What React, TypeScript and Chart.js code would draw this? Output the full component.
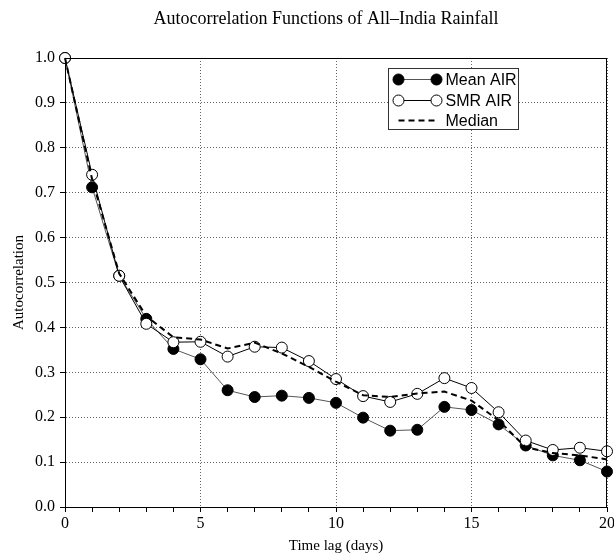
import React, { useEffect, useRef } from 'react';
import { Chart, registerables } from 'chart.js';

Chart.register(...registerables);

const lags = [0, 1, 2, 3, 4, 5, 6, 7, 8, 9, 10, 11, 12, 13, 14, 15, 16, 17, 18, 19, 20];
const meanAIR = [1.0, 0.712, 0.515, 0.419, 0.352, 0.329, 0.26, 0.245, 0.248, 0.243, 0.232, 0.199, 0.17, 0.172, 0.223, 0.216, 0.184, 0.137, 0.115, 0.104, 0.079];
const smrAIR = [1.0, 0.74, 0.515, 0.408, 0.367, 0.368, 0.335, 0.357, 0.355, 0.325, 0.285, 0.247, 0.234, 0.252, 0.287, 0.265, 0.211, 0.148, 0.127, 0.132, 0.124];
const medianACF = [1.0, 0.73, 0.52, 0.425, 0.378, 0.373, 0.353, 0.366, 0.342, 0.312, 0.279, 0.249, 0.245, 0.253, 0.257, 0.237, 0.193, 0.133, 0.12, 0.115, 0.106];
const seriesNames = ['Mean AIR', 'SMR AIR', 'Median'];
const chartTitle = 'Autocorrelation Functions of All\u2013India Rainfall';
const xAxisTitle = 'Time lag (days)';
const yAxisTitle = 'Autocorrelation';

const SERIF = "'Liberation Serif', 'DejaVu Serif', serif";
const SANS = "'Liberation Sans', Arial, sans-serif";

const frameLegendPlugin = {
  id: 'frameLegend',
  afterDraw(chart: any) {
    const { ctx, chartArea } = chart;
    const { left, right, top, bottom } = chartArea;
    ctx.save();
    // title
    ctx.fillStyle = '#000';
    ctx.font = `18px ${SERIF}`;
    ctx.textAlign = 'center';
    ctx.textBaseline = 'middle';
    ctx.fillText(chartTitle, left + 261, 19);

    ctx.strokeStyle = '#000';
    ctx.lineWidth = 1;
    ctx.setLineDash([]);
    ctx.beginPath();
    ctx.moveTo(left, top + 0.5);
    ctx.lineTo(right, top + 0.5);
    ctx.moveTo(right - 0.5, top);
    ctx.lineTo(right - 0.5, bottom);
    ctx.stroke();

    // legend box
    const bx = left + 323.5;
    const by = top + 10.5;
    const bw = 130;
    const bh = 61;
    ctx.fillStyle = '#fff';
    ctx.fillRect(bx, by, bw, bh);
    ctx.strokeStyle = '#333';
    ctx.strokeRect(bx, by, bw, bh);

    const rows = [by + 11, by + 32, by + 52];
    const x1 = bx + 10;
    const x2 = bx + 48;
    ctx.font = `16px ${SANS}`;
    ctx.textBaseline = 'middle';
    ctx.textAlign = 'left';
    seriesNames.forEach((name, i) => {
      const y = rows[i];
      ctx.save();
      if (i === 2) {
        ctx.setLineDash([6, 4]);
        ctx.lineWidth = 2;
        ctx.strokeStyle = '#000';
      } else {
        ctx.lineWidth = 1;
        ctx.strokeStyle = i === 0 ? '#555' : '#000';
      }
      ctx.beginPath();
      ctx.moveTo(x1, y);
      ctx.lineTo(x2, y);
      ctx.stroke();
      ctx.restore();
      if (i < 2) {
        [x1, x2].forEach((px) => {
          ctx.beginPath();
          ctx.arc(px, y, 5.5, 0, Math.PI * 2);
          ctx.fillStyle = i === 0 ? '#000' : '#fff';
          ctx.fill();
          ctx.lineWidth = 1;
          ctx.strokeStyle = '#000';
          ctx.stroke();
        });
      }
      ctx.fillStyle = '#000';
      ctx.fillText(name, bx + 57, y + 1);
    });
    ctx.restore();
  },
};

export default function App() {
  const canvasRef = useRef<HTMLCanvasElement | null>(null);

  useEffect(() => {
    if (!canvasRef.current) return;
    const chart = new Chart(canvasRef.current, {
      type: 'line',
      data: {
        datasets: [
          {
            label: seriesNames[1],
            data: lags.map((x, i) => ({ x, y: smrAIR[i] })),
            borderColor: '#000',
            borderWidth: 1,
            pointRadius: 5.5,
            pointBackgroundColor: '#fff',
            pointBorderColor: '#000',
            pointBorderWidth: 1,
            tension: 0,
            clip: false,
            order: 2,
          } as any,
          {
            label: seriesNames[0],
            data: lags.map((x, i) => ({ x, y: meanAIR[i] })),
            borderColor: '#555',
            borderWidth: 1,
            pointRadius: 5.5,
            pointBackgroundColor: '#000',
            pointBorderColor: '#000',
            pointBorderWidth: 1,
            tension: 0,
            clip: false,
            order: 3,
          } as any,
          {
            label: seriesNames[2],
            data: lags.map((x, i) => ({ x, y: medianACF[i] })),
            borderColor: '#000',
            borderWidth: 2,
            borderDash: [6, 4],
            pointRadius: 0,
            tension: 0,
            clip: false,
            order: 1,
          } as any,
        ],
      },
      options: {
        animation: false,
        responsive: false,
        events: [],
        layout: { padding: { left: 0, right: 7, top: 58, bottom: 0 } },
        plugins: {
          legend: { display: false },
          tooltip: { enabled: false },
          title: { display: false },
        },
        scales: {
          x: {
            type: 'linear',
            min: 0,
            max: 20,
            afterFit: (s: any) => {
              s.height = 48;
              s.paddingRight = 0;
              s.paddingLeft = 0;
            },
            ticks: {
              stepSize: 1,
              autoSkip: false,
              maxRotation: 0,
              color: '#000',
              font: { family: SERIF, size: 16 },
              padding: 2,
              callback: (v: any) => (Number(v) % 5 === 0 ? String(v) : ''),
            },
            grid: {
              color: (c: any) => (c.tick && c.tick.value % 5 === 0 ? '#666' : 'rgba(0,0,0,0)'),
              tickColor: '#000',
              tickLength: 5,
              lineWidth: 1,
            },
            border: { color: '#000', dash: [1, 2], width: 1 },
            title: {
              display: true,
              text: xAxisTitle,
              color: '#000',
              font: { family: SERIF, size: 15 },
              padding: { top: 0, bottom: 0 },
            },
          },
          y: {
            type: 'linear',
            min: 0,
            max: 1,
            afterFit: (s: any) => {
              s.width = 65;
              s.paddingTop = 0;
              s.paddingBottom = 0;
            },
            ticks: {
              stepSize: 0.1,
              color: '#000',
              font: { family: SERIF, size: 16 },
              padding: 5,
              callback: (v: any) => Number(v).toFixed(1),
            },
            grid: {
              color: '#666',
              tickColor: '#000',
              tickLength: 5,
              lineWidth: 1,
            },
            border: { color: '#000', dash: [1, 2], width: 1 },
            title: {
              display: true,
              text: yAxisTitle,
              color: '#000',
              font: { family: SERIF, size: 15 },
              padding: { top: 10, bottom: 0 },
            },
          },
        },
      },
      plugins: [frameLegendPlugin],
    } as any);
    return () => chart.destroy();
  }, []);

  return (
    <div style={{ position: 'absolute', left: 0, top: 0, width: 614, height: 555, background: '#fff' }}>
      <canvas ref={canvasRef} width={614} height={555} />
    </div>
  );
}
